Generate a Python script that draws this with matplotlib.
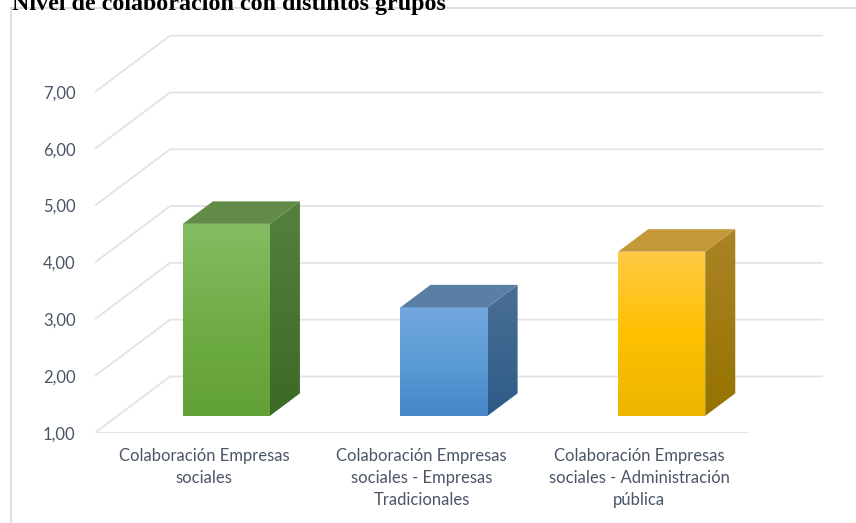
import numpy as np
import matplotlib
matplotlib.use('Agg')
import matplotlib.pyplot as plt
from matplotlib.patches import Polygon
from matplotlib.colors import LinearSegmentedColormap
from matplotlib.lines import Line2D

# data
categories = ['Colaboración Empresas\nsociales',
              'Colaboración Empresas\nsociales - Empresas\nTradicionales',
              'Colaboración Empresas\nsociales - Administración\npública']
values = [4.38, 2.91, 3.89]
yticks = [1, 2, 3, 4, 5, 6, 7]
ytick_labels = ['1,00', '2,00', '3,00', '4,00', '5,00', '6,00', '7,00']
title = 'Nivel de colaboración con distintos grupos'

# face colours: front (top, mid, bottom), side (top, bottom), top
front_cols = [['#85bc63', '#70ad47', '#62a136'],
              ['#74a8df', '#5b9bd5', '#4686c8'],
              ['#ffca45', '#ffc000', '#ebb600']]
side_cols = [['#56803f', '#3b6a24'],
             ['#4a6f97', '#2d5b86'],
             ['#aa8426', '#957300']]
top_cols = ['#638b48', '#5a7fa5', '#c4993a']

# oblique "3d" look
DX = 0.345   # depth shift in x (category units)
DY = 0.99    # depth shift in y (value units)
BAR_W = 0.4
D0, D1 = 0.3, 0.7
YMIN = 1
grid_col = '#e2e3e9'
txt_col = '#4a5568'

plt.rcParams['font.family'] = ['Lato', 'DejaVu Sans']

fig = plt.figure(figsize=(8.56, 5.23), dpi=100)
W, H = 856, 523
px_x = 653 / 3
px_y = 56.8
left, bottom_px = 95, 432.7
xmax, ymax = 3.4, 8.1
ax = fig.add_axes([left / W, (H - bottom_px) / H,
                   xmax * px_x / W, (ymax - YMIN) * px_y / H])


def proj(x, y, d):
    return (x + d * DX, y + d * DY)


def grad_face(verts, colors, z):
    poly = Polygon(verts, closed=True, facecolor='none', edgecolor='none')
    ax.add_patch(poly)
    xs = [v[0] for v in verts]
    ys = [v[1] for v in verts]
    cmap = LinearSegmentedColormap.from_list('f', colors)
    g = np.linspace(0, 1, 256).reshape(-1, 1)
    im = ax.imshow(g, extent=[min(xs), max(xs), min(ys), max(ys)],
                   aspect='auto', cmap=cmap, origin='upper', zorder=z,
                   interpolation='bilinear')
    im.set_clip_path(poly)


# walls / gridlines
for v in yticks:
    p0 = proj(0, v, 0)
    p1 = proj(0, v, 1)
    p2 = proj(3, v, 1)
    ax.plot([p0[0], p1[0], p2[0]], [p0[1], p1[1], p2[1]],
            color=grid_col, lw=1.3, zorder=1, solid_capstyle='butt')
ax.plot([0, 3], [YMIN, YMIN], color=grid_col, lw=1.3, zorder=1)

# bars
for i, v in enumerate(values):
    x0 = i + 0.5 - BAR_W / 2
    x1 = i + 0.5 + BAR_W / 2
    front = [proj(x0, YMIN, D0), proj(x1, YMIN, D0),
             proj(x1, v, D0), proj(x0, v, D0)]
    side = [proj(x1, YMIN, D0), proj(x1, YMIN, D1),
            proj(x1, v, D1), proj(x1, v, D0)]
    top = [proj(x0, v, D0), proj(x1, v, D0),
           proj(x1, v, D1), proj(x0, v, D1)]
    grad_face(front, front_cols[i], 3)
    grad_face(side, side_cols[i], 3)
    ax.add_patch(Polygon(top, closed=True, facecolor=top_cols[i],
                         edgecolor='none', zorder=3))

ax.set_xlim(0, xmax)
ax.set_ylim(YMIN, ymax)
for s in ax.spines.values():
    s.set_visible(False)
ax.set_yticks(yticks)
ax.set_yticklabels(ytick_labels)
ax.set_xticks([0.5, 1.5, 2.5])
ax.set_xticklabels(categories, linespacing=1.45)
ax.tick_params(length=0, labelsize=12, labelcolor=txt_col)
ax.tick_params(axis='y', pad=14)
ax.tick_params(axis='x', pad=11)

# chart border and title (title is cut at the top edge, as in the source)
fig.add_artist(Line2D([11 / W, 11 / W], [0, 1 - 8 / H], color='#d9d9d9', lw=1.2))
fig.add_artist(Line2D([11 / W, 1], [1 - 8 / H, 1 - 8 / H], color='#d9d9d9', lw=1.2))
fig.text(12 / W, 1 - 10 / H, title, va='baseline', ha='left',
         family='Liberation Serif', weight='bold', fontsize=17.3, color='black')

fig.savefig('out.png', dpi=100)
